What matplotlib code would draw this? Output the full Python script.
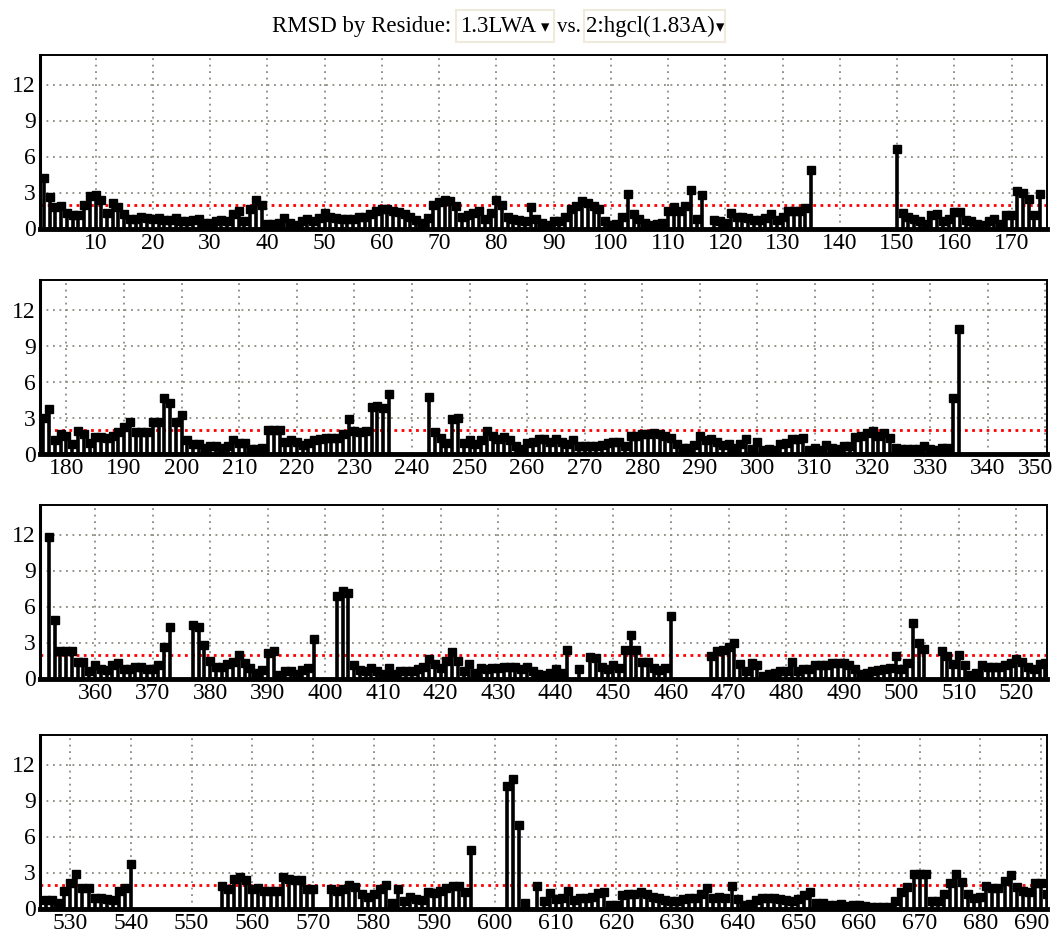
import matplotlib
matplotlib.use("Agg")
import matplotlib.pyplot as plt
import matplotlib.transforms as mtransforms
import numpy as np
from matplotlib.patches import Rectangle

nan = np.nan

# nan = residue with no value (gap in the alignment)
row1_first = 1
row1_rmsd = [
    4.2, 2.6, 1.8, 1.9, 1.3, 1.1, 1.1, 2.0, 2.7, 2.8,
    2.4, 1.3, 2.1, 1.8, 1.2, 0.8, 0.8, 1.0, 0.9, 0.8,
    0.9, 0.7, 0.7, 0.9, 0.6, 0.6, 0.7, 0.8, 0.5, 0.5,
    0.6, 0.7, 0.6, 1.2, 1.5, 0.6, 1.6, 2.4, 2.0, 0.4,
    0.4, 0.5, 0.9, 0.5, 0.3, 0.6, 0.8, 0.6, 0.9, 1.3,
    1.0, 0.9, 0.8, 0.8, 0.8, 1.0, 1.0, 1.2, 1.5, 1.6,
    1.6, 1.5, 1.4, 1.2, 1.0, 0.7, 0.5, 0.9, 2.0, 2.2,
    2.4, 2.3, 1.9, 1.0, 1.1, 1.3, 1.5, 0.8, 1.3, 2.4,
    2.0, 1.0, 0.8, 0.7, 0.6, 1.8, 0.8, 0.5, 0.3, 0.6,
    0.6, 1.0, 1.6, 1.9, 2.3, 2.1, 1.9, 1.6, 0.6, 0.3,
    0.4, 1.0, 2.9, 1.2, 0.8, 0.5, 0.3, 0.4, 0.5, 1.5,
    1.8, 1.5, 1.9, 3.2, 0.8, 2.8, nan, 0.7, 0.6, 0.5,
    1.3, 1.0, 1.0, 0.9, 0.7, 0.7, 0.9, 1.2, 0.7, 1.0,
    1.5, 1.5, 1.5, 1.7, 4.9, nan, nan, nan, nan, nan,
    nan, nan, nan, nan, nan, nan, nan, nan, nan, 6.6,
    1.3, 1.0, 0.8, 0.6, 0.4, 1.1, 1.2, 0.6, 0.8, 1.4,
    1.4, 0.7, 0.6, 0.4, 0.3, 0.6, 0.8, 0.4, 1.1, 1.1,
    3.1, 3.0, 2.5, 1.1, 2.9,
]

row2_first = 176
row2_rmsd = [
    3.0, 3.7, 1.1, 1.6, 1.5,
    0.8, 1.9, 1.6, 0.9, 1.4, 1.4, 1.3, 1.5, 1.8, 2.2,
    2.6, 1.8, 1.8, 1.8, 2.6, 2.6, 4.6, 4.2, 2.6, 3.2,
    1.1, 0.8, 0.8, 0.5, 0.6, 0.6, 0.5, 0.6, 1.1, 0.9,
    0.9, 0.4, 0.4, 0.5, 2.0, 2.0, 2.0, 1.0, 1.1, 1.0,
    0.7, 0.9, 1.1, 1.2, 1.3, 1.3, 1.3, 1.6, 2.9, 1.9,
    1.8, 1.9, 3.9, 4.0, 3.8, 5.0, nan, nan, nan, nan,
    nan, nan, 4.7, 1.8, 1.3, 0.9, 2.9, 3.0, 0.9, 1.1,
    0.8, 1.1, 1.9, 1.5, 1.2, 1.4, 1.1, 0.6, 0.4, 0.9,
    1.0, 1.2, 1.2, 1.0, 1.2, 1.0, 0.8, 1.1, 0.6, 0.6,
    0.6, 0.6, 0.7, 0.9, 1.0, 1.0, 0.6, 1.5, 1.5, 1.6,
    1.6, 1.7, 1.6, 1.5, 1.3, 0.8, 0.5, 0.5, 0.7, 1.5,
    1.1, 1.2, 1.0, 0.7, 0.8, 0.5, 0.8, 1.2, 0.4, 1.0,
    0.3, 0.4, 0.3, 0.8, 0.9, 1.2, 1.2, 1.3, 0.3, 0.5,
    0.3, 0.7, 0.5, 0.4, 0.6, 0.6, 1.4, 1.5, 1.7, 1.9,
    1.5, 1.7, 1.3, 0.5, 0.4, 0.4, 0.4, 0.4, 0.6, 0.4,
    0.3, 0.5, 0.5, 4.6, 10.4,
]

row3_first = 351
row3_rmsd = [
    nan, 11.8, 4.9, 2.3, 2.3, 2.3, 1.4, 1.4, 0.6, 1.1,
    0.8, 0.7, 1.1, 1.3, 0.8, 0.8, 1.0, 1.0, 0.8, 0.8,
    1.1, 2.6, 4.3, nan, nan, nan, 4.5, 4.3, 2.8, 1.5,
    1.0, 1.0, 1.2, 1.4, 2.0, 1.3, 0.9, 0.5, 0.7, 2.1,
    2.3, 0.3, 0.6, 0.6, 0.4, 0.7, 0.9, 3.3, nan, nan,
    nan, 6.9, 7.3, 7.1, 1.1, 0.7, 0.6, 0.9, 0.6, 0.4,
    0.9, 0.4, 0.6, 0.6, 0.6, 0.8, 1.0, 1.6, 1.2, 0.9,
    1.5, 2.2, 1.5, 0.6, 1.2, 0.5, 0.9, 0.8, 0.9, 0.9,
    1.0, 1.0, 1.0, 0.8, 1.0, 0.6, 0.4, 0.3, 0.5, 0.8,
    0.5, 2.4, nan, 0.8, nan, 1.8, 1.7, 1.0, 0.8, 1.1,
    0.9, 2.4, 3.6, 2.4, 1.4, 1.4, 0.9, 0.7, 0.9, 5.2,
    nan, nan, nan, nan, nan, nan, 1.9, 2.3, 2.4, 2.6,
    3.0, 1.2, 0.6, 1.3, 1.1, 0.2, 0.4, 0.5, 0.6, 0.6,
    1.4, 0.6, 0.8, 0.8, 1.1, 1.1, 1.1, 1.3, 1.3, 1.3,
    1.1, 0.8, 0.4, 0.5, 0.6, 0.7, 0.8, 0.9, 1.9, 0.8,
    1.3, 4.6, 3.0, 2.5, nan, nan, 2.3, 1.9, 1.2, 2.0,
    1.1, 0.3, 0.5, 1.1, 1.0, 1.0, 1.0, 1.1, 1.3, 1.6,
    1.4, 1.0, 0.8, 1.2, 1.3,
]

row4_first = 526
row4_rmsd = [
    0.7, 0.7, 0.5, 1.5, 2.1, 2.9, 1.7, 1.7, 0.9, 0.9,
    0.8, 0.7, 1.5, 1.7, 3.7, nan, nan, nan, nan, nan,
    nan, nan, nan, nan, nan, nan, nan, nan, nan, 1.9,
    1.6, 2.5, 2.6, 2.4, 1.6, 1.7, 1.5, 1.5, 1.5, 2.6,
    2.5, 2.4, 2.4, 1.6, 1.6, nan, nan, 1.6, 1.5, 1.6,
    2.0, 1.8, 1.2, 1.0, 1.2, 1.6, 2.0, 0.5, 1.6, 0.6,
    1.0, 0.8, 0.7, 1.4, 1.3, 1.5, 1.7, 1.9, 1.9, 1.4,
    4.9, nan, nan, nan, nan, nan, 10.2, 10.8, 7.0, 0.5,
    nan, 1.9, 0.6, 1.3, 0.8, 0.9, 1.5, 0.7, 0.9, 0.9,
    1.0, 1.3, 1.4, 0.3, 0.3, 1.1, 1.2, 1.2, 1.4, 1.2,
    1.0, 0.9, 0.7, 0.6, 0.6, 0.8, 0.9, 0.9, 1.2, 1.7,
    0.9, 1.0, 0.9, 1.9, 0.8, 0.3, 0.4, 0.7, 0.9, 0.9,
    0.9, 0.8, 0.7, 0.6, 0.8, 1.1, 1.4, 0.5, 0.5, 0.3,
    0.3, 0.4, 0.2, 0.3, 0.3, 0.2, 0.1, 0.1, 0.1, 0.1,
    0.6, 1.4, 1.8, 2.9, 2.9, 2.9, 0.6, 0.6, 1.2, 2.1,
    2.9, 2.2, 1.2, 0.9, 1.0, 1.9, 1.7, 1.7, 2.3, 2.8,
    1.8, 1.5, 1.4, 2.1, 2.1, 1.2,
]

cutoff = 2.0

rows = [
    (row1_first, row1_rmsd, (0.3, 176.2)),
    (row2_first, row2_rmsd, (175.4, 350.3)),
    (row3_first, row3_rmsd, (350.45, 525.3)),
    (row4_first, row4_rmsd, (525.0, 691.0)),
]
bottoms_px = [228.5, 453.5, 678.5, 908.5]

W, H = 1055, 932
plt.rcParams["font.family"] = ["Liberation Serif", "DejaVu Serif"]

fig = plt.figure(figsize=(W / 100, H / 100), dpi=100)
nudge_left = mtransforms.ScaledTranslation(-7 / 72, 0, fig.dpi_scale_trans)

for (first, rmsd, xlim), bot in zip(rows, bottoms_px):
    ax = fig.add_axes([40 / W, 1 - bot / H, 1007 / W, 174 / H])
    y = np.array(rmsd, dtype=float)
    x = np.arange(first, first + len(y))
    ok = ~np.isnan(y)
    ax.vlines(x[ok], 0, y[ok], colors="black", lw=2.6, zorder=3)
    ax.plot(x[ok], y[ok], "s", ms=5.5, color="black", zorder=4)
    ax.axhline(0, color="black", lw=3.5, zorder=5, clip_on=False)
    ax.axhline(cutoff, color="red", lw=2.0, ls=(0, (1, 1.6)), zorder=2)

    ax.set_xlim(*xlim)
    ax.set_ylim(0, 14.5)
    lo = int(np.ceil(xlim[0] / 10.0) * 10)
    ticks = np.arange(lo, xlim[1], 10)
    ax.set_xticks(ticks)
    ax.set_yticks([0, 3, 6, 9, 12])
    ax.grid(True, color="#8a8a80", lw=1.3, ls=(0, (1, 2.6)), zorder=1)
    ax.tick_params(length=0, labelsize=17, pad=3)
    # the last label sits at the right border; pull it in a little
    for t, lab in zip(ticks, ax.get_xticklabels()):
        if xlim[1] - t < 3:
            lab.set_transform(lab.get_transform() + nudge_left)
    for s in ax.spines.values():
        s.set_color("black")
        s.set_linewidth(1.4)
    ax.spines["left"].set_linewidth(2.2)

# header with the two "drop-down" boxes
fig.text(272 / W, 1 - 32 / H, "RMSD by Residue:", fontsize=16.5, va="baseline")
for x0, x1 in [(456, 554), (584, 725)]:
    fig.patches.append(Rectangle((x0 / W, 1 - 42 / H), (x1 - x0) / W, 32 / H,
                                 transform=fig.transFigure, fill=False,
                                 edgecolor="#efeadc", lw=1.5))
fig.text(460 / W, 1 - 32 / H, "1.3LWA", fontsize=16.5, va="baseline")
fig.text(541 / W, 1 - 32 / H, "▾", fontsize=12, va="baseline", family=["DejaVu Sans"])
fig.text(557 / W, 1 - 32 / H, "vs.", fontsize=15, va="baseline")
fig.text(586 / W, 1 - 32 / H, "2:hgcl(1.83A)", fontsize=16.5, va="baseline")
fig.text(716 / W, 1 - 32 / H, "▾", fontsize=12, va="baseline", family=["DejaVu Sans"])

fig.savefig("out.png", dpi=100)
